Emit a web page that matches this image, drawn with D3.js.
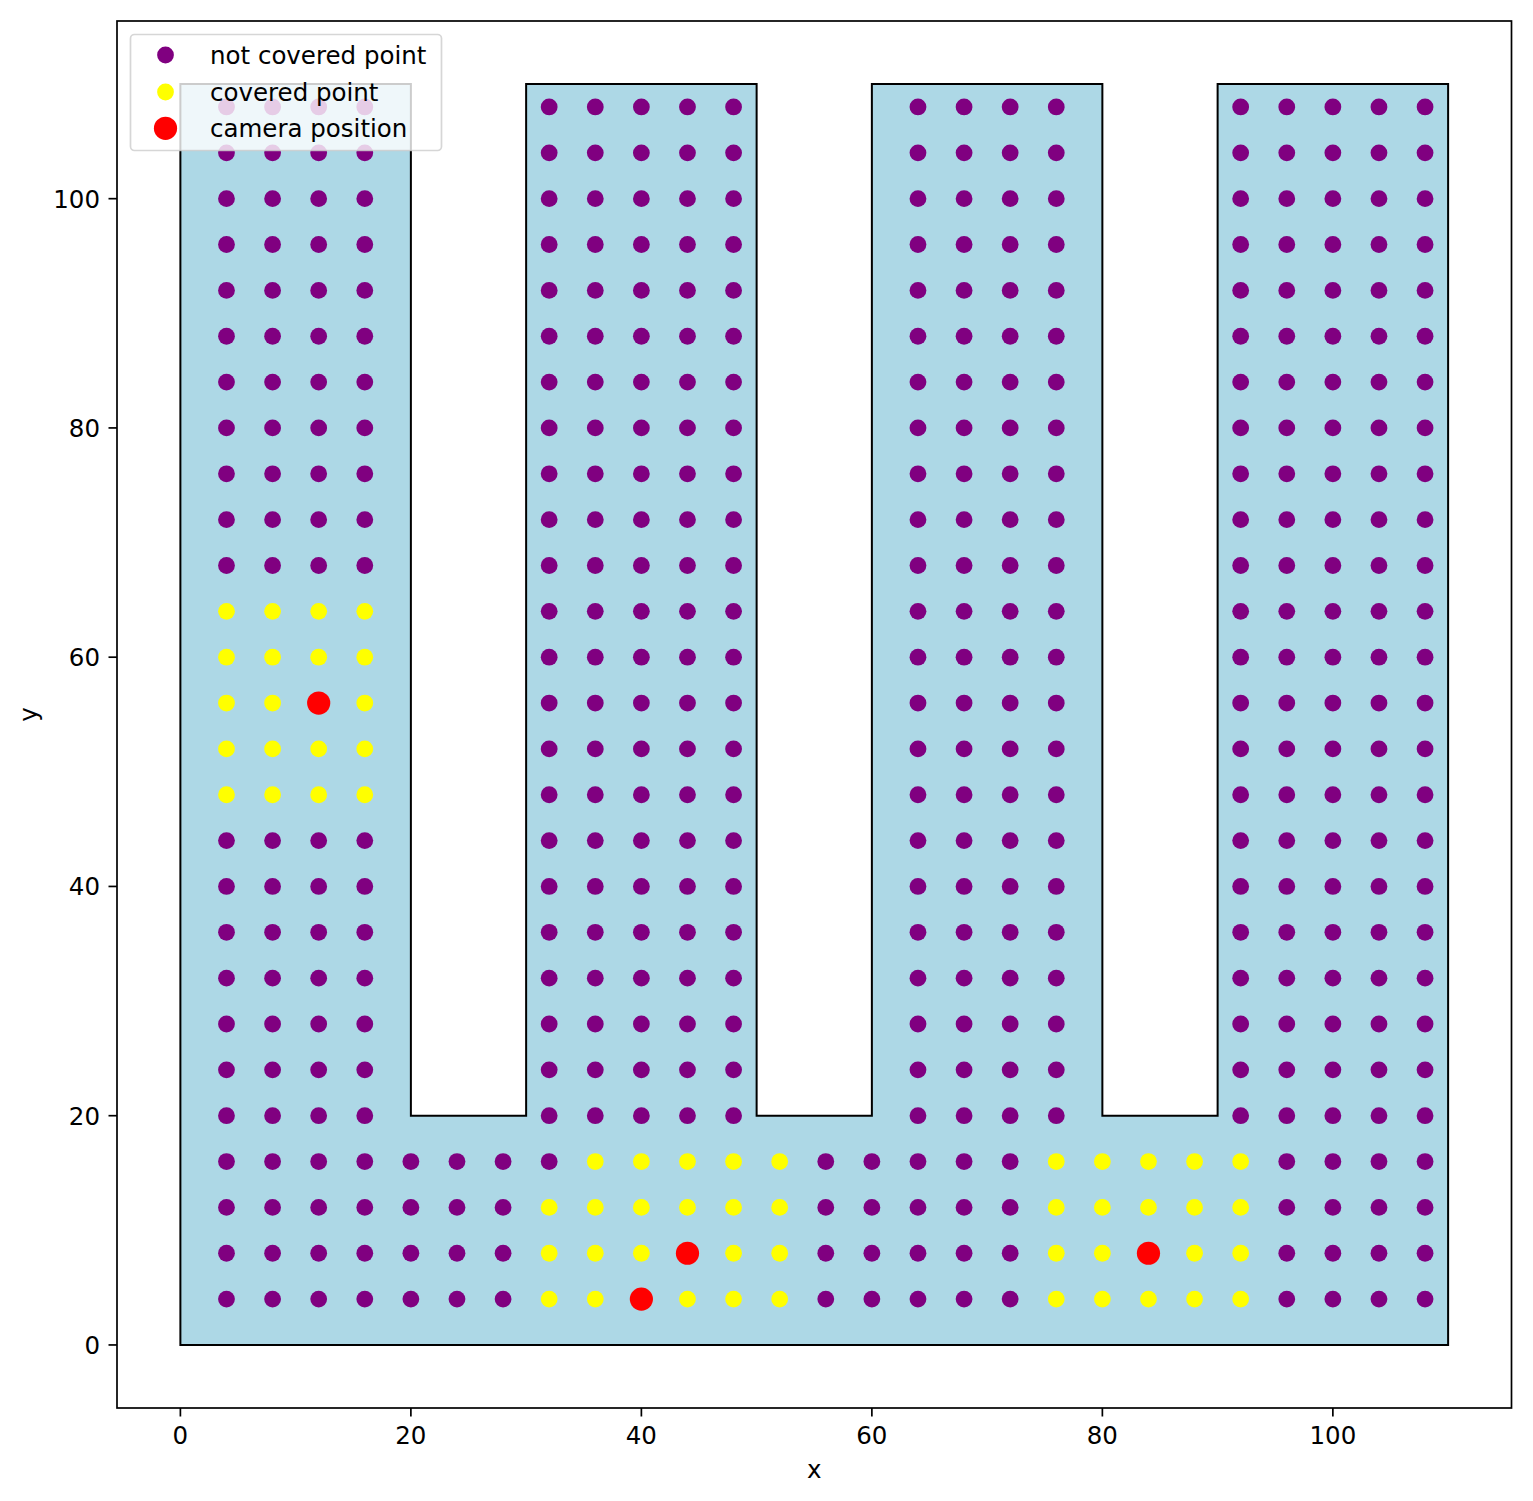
<!DOCTYPE html>
<html>
<head>
<meta charset="utf-8">
<script src="https://cdn.jsdelivr.net/npm/d3@7"></script>
<style>
  html, body { margin: 0; padding: 0; background: #fff; }
  text { font-family: "DejaVu Sans", sans-serif; }
</style>
</head>
<body>
<svg id="chart" width="1533" height="1501"></svg>
<script>
// ---------------- data ----------------
const polygonVertices = [
  [0, 0], [110, 0], [110, 110], [90, 110], [90, 20], [80, 20], [80, 110],
  [60, 110], [60, 20], [50, 20], [50, 110], [30, 110], [30, 20], [20, 20],
  [20, 110], [0, 110]
];
const gridX = [4, 8, 12, 16, 20, 24, 28, 32, 36, 40, 44, 48, 52, 56, 60, 64, 68, 72, 76, 80, 84, 88, 92, 96, 100, 104, 108];
const gridY = [4, 8, 12, 16, 20, 24, 28, 32, 36, 40, 44, 48, 52, 56, 60, 64, 68, 72, 76, 80, 84, 88, 92, 96, 100, 104, 108];
const coveredPoints = [
  // camera at (12,56)
  [4, 48], [8, 48], [12, 48], [16, 48],
  [4, 52], [8, 52], [12, 52], [16, 52],
  [4, 56], [8, 56], [12, 56], [16, 56],
  [4, 60], [8, 60], [12, 60], [16, 60],
  [4, 64], [8, 64], [12, 64], [16, 64],
  // cameras at (40,4) and (44,8)
  [32, 4], [36, 4], [40, 4], [44, 4], [48, 4], [52, 4],
  [32, 8], [36, 8], [40, 8], [44, 8], [48, 8], [52, 8],
  [32, 12], [36, 12], [40, 12], [44, 12], [48, 12], [52, 12],
  [36, 16], [40, 16], [44, 16], [48, 16], [52, 16],
  // camera at (84,8)
  [76, 4], [80, 4], [84, 4], [88, 4], [92, 4],
  [76, 8], [80, 8], [84, 8], [88, 8], [92, 8],
  [76, 12], [80, 12], [84, 12], [88, 12], [92, 12],
  [76, 16], [80, 16], [84, 16], [88, 16], [92, 16]
];
const cameraPositions = [[12, 56], [44, 8], [40, 4], [84, 8]];
const xTicks = [0, 20, 40, 60, 80, 100];
const yTicks = [0, 20, 40, 60, 80, 100];
const legendLabels = ["not covered point", "covered point", "camera position"];
const xDomain = [-5.5, 115.5];
const yDomain = [-5.5, 115.5];

// ---------------- layout ----------------
const L = 117, R = 1511.5, T = 21, B = 1408;
const svg = d3.select("#chart");
svg.append("rect").attr("width", 1533).attr("height", 1501).attr("fill", "#fff");

const x = d3.scaleLinear().domain(xDomain).range([L, R]);
const y = d3.scaleLinear().domain(yDomain).range([B, T]);

// strict interior test (boundary points excluded)
function onEdge(p) {
  for (let i = 0; i < polygonVertices.length; i++) {
    const a = polygonVertices[i], b = polygonVertices[(i + 1) % polygonVertices.length];
    const minX = Math.min(a[0], b[0]), maxX = Math.max(a[0], b[0]);
    const minY = Math.min(a[1], b[1]), maxY = Math.max(a[1], b[1]);
    const cross = (b[0] - a[0]) * (p[1] - a[1]) - (b[1] - a[1]) * (p[0] - a[0]);
    if (Math.abs(cross) < 1e-9 && p[0] >= minX && p[0] <= maxX && p[1] >= minY && p[1] <= maxY) return true;
  }
  return false;
}
const inside = [];
gridX.forEach(gx => gridY.forEach(gy => {
  const p = [gx, gy];
  if (!onEdge(p) && d3.polygonContains(polygonVertices, p)) inside.push(p);
}));
const coveredKey = new Set(coveredPoints.map(p => p.join(",")));
const notCovered = inside.filter(p => !coveredKey.has(p.join(",")));

// polygon
svg.append("path")
  .attr("d", "M" + polygonVertices.map(p => [x(p[0]), y(p[1])].join(",")).join("L") + "Z")
  .attr("fill", "#add8e6")
  .attr("stroke", "#000")
  .attr("stroke-width", 2)
  .attr("stroke-linejoin", "miter");

svg.append("clipPath").attr("id", "clip").append("rect")
  .attr("x", L).attr("y", T).attr("width", R - L).attr("height", B - T);
const plot = svg.append("g").attr("clip-path", "url(#clip)");

plot.selectAll("circle.nc").data(notCovered).join("circle")
  .attr("class", "nc").attr("cx", d => x(d[0])).attr("cy", d => y(d[1]))
  .attr("r", 8.4).attr("fill", "#800080");
plot.selectAll("circle.cv").data(coveredPoints).join("circle")
  .attr("class", "cv").attr("cx", d => x(d[0])).attr("cy", d => y(d[1]))
  .attr("r", 8.4).attr("fill", "#ffff00");
plot.selectAll("circle.cam").data(cameraPositions).join("circle")
  .attr("class", "cam").attr("cx", d => x(d[0])).attr("cy", d => y(d[1]))
  .attr("r", 11.6).attr("fill", "#ff0000");

// axes frame
svg.append("rect").attr("x", L).attr("y", T).attr("width", R - L).attr("height", B - T)
  .attr("fill", "none").attr("stroke", "#000").attr("stroke-width", 1.7);

const fs = 24.5;
const xAxis = svg.append("g");
xTicks.forEach(t => {
  xAxis.append("line").attr("x1", x(t)).attr("x2", x(t)).attr("y1", B).attr("y2", B + 8.5)
    .attr("stroke", "#000").attr("stroke-width", 1.7);
  xAxis.append("text").attr("x", x(t)).attr("y", 1444).attr("text-anchor", "middle")
    .attr("font-size", fs).attr("fill", "#000").text(t);
});
const yAxis = svg.append("g");
yTicks.forEach(t => {
  yAxis.append("line").attr("x1", L - 8.5).attr("x2", L).attr("y1", y(t)).attr("y2", y(t))
    .attr("stroke", "#000").attr("stroke-width", 1.7);
  yAxis.append("text").attr("x", 100).attr("y", y(t) + 8.9).attr("text-anchor", "end")
    .attr("font-size", fs).attr("fill", "#000").text(t);
});
svg.append("text").attr("x", (L + R) / 2).attr("y", 1478).attr("text-anchor", "middle")
  .attr("font-size", fs).text("x");
svg.append("text").attr("transform", `translate(36.5,${(T + B) / 2}) rotate(-90)`)
  .attr("text-anchor", "middle").attr("font-size", fs).text("y");

// legend
const lg = svg.append("g");
lg.append("rect").attr("x", 130.5).attr("y", 34.5).attr("width", 311).attr("height", 116)
  .attr("rx", 4).attr("ry", 4)
  .attr("fill", "rgba(255,255,255,0.8)").attr("stroke", "rgba(204,204,204,0.8)").attr("stroke-width", 1.7);
const legendColors = ["#800080", "#ffff00", "#ff0000"];
const legendR = [8.4, 8.4, 11.6];
const legendY = [55, 92, 128.3];
legendLabels.forEach((lab, i) => {
  lg.append("circle").attr("cx", 165.5).attr("cy", legendY[i]).attr("r", legendR[i]).attr("fill", legendColors[i]);
  lg.append("text").attr("x", 210).attr("y", legendY[i] + 8.5).attr("font-size", fs).attr("fill", "#000").text(lab);
});
</script>
</body>
</html>
